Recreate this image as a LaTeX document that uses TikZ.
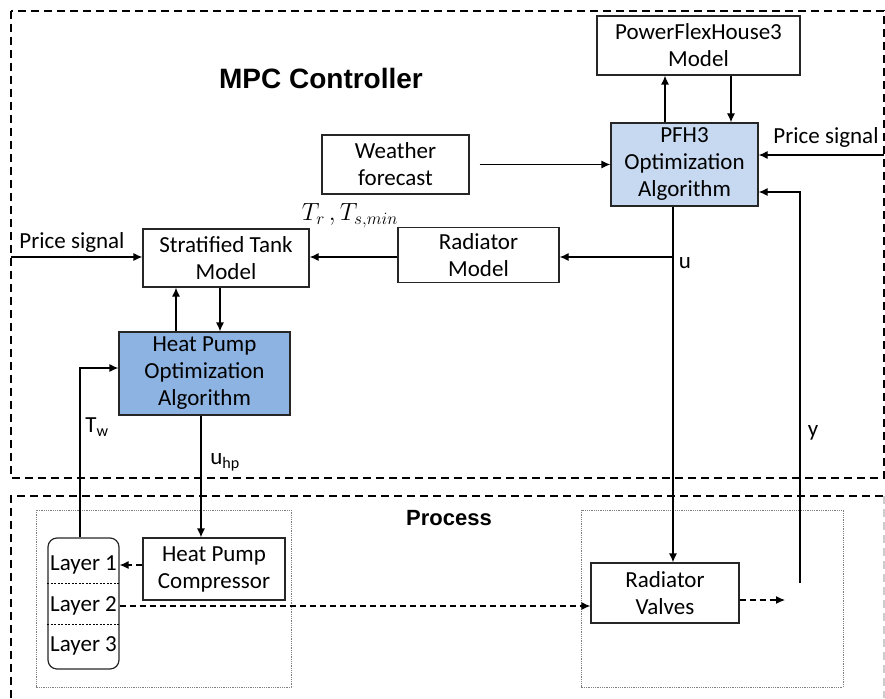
\documentclass[tikz,border=0pt]{standalone}
\usepackage{fontspec}
\setmainfont{Carlito}
\newfontfamily\headfont{Liberation Sans}
\usetikzlibrary{positioning,arrows.meta,calc}

\begin{document}
\begin{tikzpicture}[x=1pt, y=-1pt,
  block/.style={draw=black!85, line width=1.2pt, align=center, inner sep=0pt,
    font=\fontsize{23}{27}\selectfont},
  lbl/.style={inner sep=0pt, font=\fontsize{23}{27}\selectfont},
  conn/.style={line width=1.2pt, -{Latex[length=9pt,width=8pt]}},
  dconn/.style={conn, dash pattern=on 6pt off 4pt},
  region/.style={line width=1.1pt, dash pattern=on 8pt off 5pt},
  group/.style={gray, line width=.8pt, densely dotted}]

\useasboundingbox (0,0) rectangle (885,698);

%\draw[step=50, gray!20, very thin] (0,0) grid (885,698);

% frames
\draw[region] (11,11) rectangle (884,478);
\draw[region] (11,698) -- (11,496) -- (884,496);
\draw[region, gray!40] (884,496) -- (884,698);
\draw[group] (36,510) rectangle (291,687);
\draw[group] (581,510) rectangle (843,687);

\node [inner sep=0pt, font=\headfont\bfseries\fontsize{28}{30}\selectfont] (mpc) at (321,78) {MPC Controller};
\node [inner sep=0pt, font=\headfont\bfseries\fontsize{22}{24}\selectfont] (proc) at (449,518) {Process};

% blocks
\node [block, minimum width=203pt, minimum height=59pt] (pfhmodel) at (698.5,45.5) {PowerFlexHouse3\\Model};
\node [block, fill={rgb,255:red,198;green,217;blue,241}, minimum width=147pt, minimum height=83pt] (pfhopt) at (684.5,164.5) {PFH3\\Optimization\\Algorithm};
\node [block, minimum width=147pt, minimum height=59pt] (weather) at (395.5,164.5) {Weather\\forecast};
\node [block, minimum width=166pt, minimum height=58pt] (tank) at (226,258) {Stratified Tank\\Model};
\node [block, minimum width=161pt, minimum height=55pt] (radmodel) at (478.5,255) {Radiator\\Model};
\node [block, fill={rgb,255:red,141;green,179;blue,226}, minimum width=171pt, minimum height=83pt] (hpopt) at (204.5,373.5) {Heat Pump\\Optimization\\Algorithm};
\node [block, minimum width=142pt, minimum height=62pt] (hpcomp) at (214,569) {Heat Pump\\Compressor};
\node [block, minimum width=148pt, minimum height=60pt] (valves) at (665,593) {Radiator\\Valves};

\node [draw=black!85, line width=1.2pt, rounded corners=9pt, minimum width=71pt, minimum height=131pt] (layers) at (83.5,603.5) {};
\draw[line width=.6pt, dash pattern=on 2pt off 1.5pt] (layers.west |- 0,583) -- (layers.east |- 0,583);
\draw[line width=.6pt, dash pattern=on 2pt off 1.5pt] (layers.west |- 0,624) -- (layers.east |- 0,624);
\node [lbl] (layer1) at (83.5,565) {Layer 1};
\node [lbl] (layer2) at (83.5,606) {Layer 2};
\node [lbl] (layer3) at (83.5,646) {Layer 3};

% turning points and free ends
\coordinate (xup)   at (665,0);
\coordinate (xdown) at (731,0);
\coordinate (pright) at (884,155);
\coordinate (pleft)  at (11,257);
\coordinate (ubr)   at (673,257);
\coordinate (ystart) at (800,583);
\coordinate (yturn) at (800,192);
\coordinate (tkup)  at (176,0);
\coordinate (tkdown) at (220,0);
\coordinate (uhp)   at (201,0);
\coordinate (tw)    at (80,368);
\coordinate (vout)  at (785,600);

% connectors
\draw[conn] (pfhopt.north -| xup) -- (pfhmodel.south -| xup);
\draw[conn] (pfhmodel.south -| xdown) -- (pfhopt.north -| xdown);
\draw[conn] ([xshift=10pt]weather.east) -- (pfhopt.west);
\draw[conn] (pright) -- (pright -| pfhopt.east);
\draw[conn] (ystart) -- (yturn) -- (yturn -| pfhopt.east);
\draw[conn] (pfhopt.south -| ubr) -- (valves.north -| ubr);
\draw[conn] (ubr) -- (ubr -| radmodel.east);
\draw[conn] (radmodel.west |- ubr) -- (tank.east |- ubr);
\draw[conn] (pleft) -- (pleft -| tank.west);
\draw[conn] (hpopt.north -| tkup) -- (tank.south -| tkup);
\draw[conn] (tank.south -| tkdown) -- (hpopt.north -| tkdown);
\draw[conn] (hpopt.south -| uhp) -- (hpcomp.north -| uhp);
\draw[conn] (layers.north -| tw) -- (tw) -- (tw -| hpopt.west);
\draw[dconn] (hpcomp.west |- layer1) -- (layers.east |- layer1);
\draw[dconn] (layers.east |- layer2) -- (valves.west |- layer2);
\draw[dconn] (valves.east |- vout) -- (vout);

% signal labels
\node [lbl] (lpright) at (826,137) {Price signal};
\node [lbl] (lpleft) at (72,242) {Price signal};
\node [lbl] (ltemp) at (350,216) {$T_r\,,T_{s,min}$};
\node [lbl] (lu) at (685,263) {u};
\node [lbl] (ly) at (813,433) {y};
\node [lbl] (ltw) at (97,427) {T\textsubscript{w}};
\node [lbl] (luhp) at (225,462) {u\textsubscript{hp}};

\end{tikzpicture}
\end{document}
